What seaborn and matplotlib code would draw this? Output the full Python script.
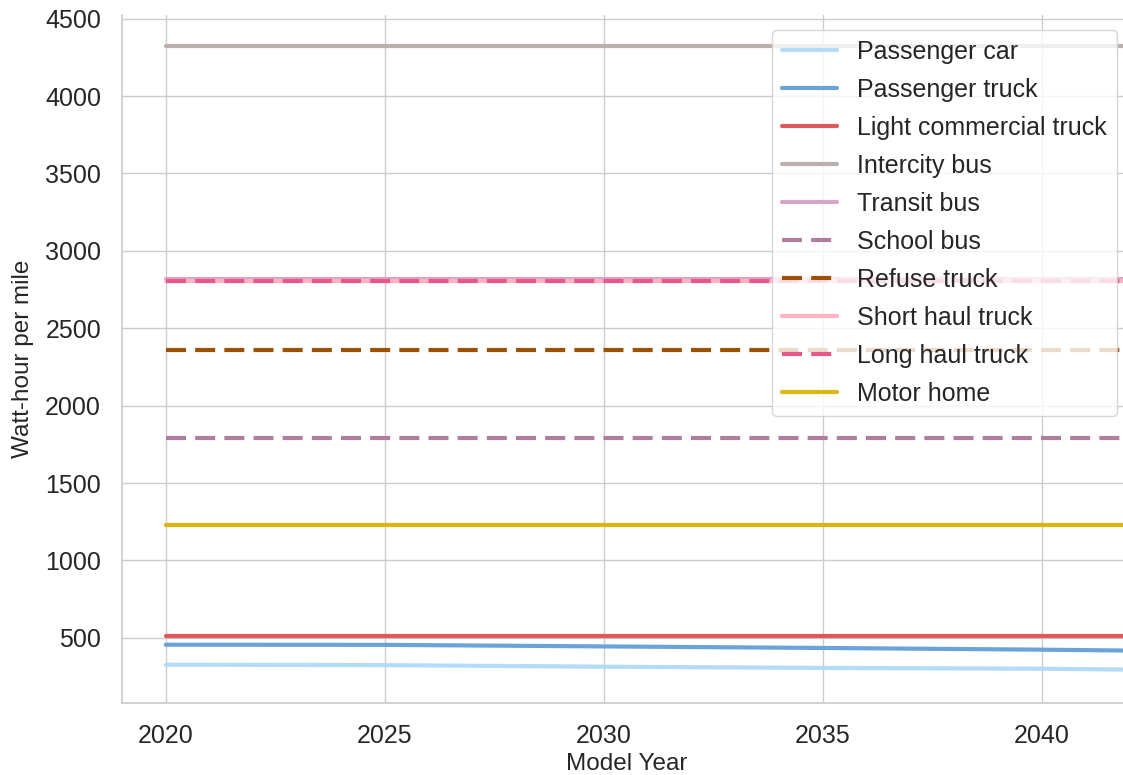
import numpy as np
import pandas as pd
import matplotlib
matplotlib.use("Agg")
import matplotlib.pyplot as plt
import seaborn as sns

# Energy intensity by vehicle class (Wh per mile)
years = [2020, 2025, 2030, 2035, 2040, 2042]
passenger_car = [327, 324, 314, 306, 301, 295]
passenger_truck = [456, 455, 445, 435, 424, 418]
light_commercial_truck = [514, 514, 514, 514, 514, 514]
intercity_bus = [4326, 4326, 4326, 4326, 4326, 4326]
transit_bus = [2815, 2815, 2815, 2815, 2815, 2815]
school_bus = [1793, 1793, 1793, 1793, 1793, 1793]
refuse_truck = [2362, 2362, 2362, 2362, 2362, 2362]
short_haul_truck = [2808, 2808, 2808, 2808, 2808, 2808]
long_haul_truck = [2808, 2808, 2808, 2808, 2808, 2808]
motor_home = [1231, 1231, 1231, 1231, 1231, 1231]

vehicle_names = ["Passenger car", "Passenger truck", "Light commercial truck",
                 "Intercity bus", "Transit bus", "School bus", "Refuse truck",
                 "Short haul truck", "Long haul truck", "Motor home"]
series = [passenger_car, passenger_truck, light_commercial_truck, intercity_bus,
          transit_bus, school_bus, refuse_truck, short_haul_truck,
          long_haul_truck, motor_home]

colors = {
    "Passenger car": "#b3dcf8",
    "Passenger truck": "#6aa3d9",
    "Light commercial truck": "#e0575b",
    "Intercity bus": "#bcb0ab",
    "Transit bus": "#d8a4cc",
    "School bus": "#b07c9f",
    "Refuse truck": "#9c5000",
    "Short haul truck": "#ffb3c1",
    "Long haul truck": "#e8578a",
    "Motor home": "#dab60e",
}
dash_pat = (4.8, 2.2)
dashes = {n: "" for n in vehicle_names}
for n in ["School bus", "Refuse truck", "Long haul truck"]:
    dashes[n] = dash_pat

df = pd.DataFrame({
    "Model Year": np.tile(years, len(vehicle_names)),
    "Watt-hour per mile": np.concatenate(series),
    "Vehicle": np.repeat(vehicle_names, len(years)),
})

sns.set_theme(style="whitegrid")
plt.rcParams["font.family"] = ["Liberation Sans", "DejaVu Sans"]

fig = plt.figure(figsize=(11.23, 7.75), dpi=100)
# axes run slightly past the right edge of the canvas
ax = fig.add_axes([0.1086, 0.093, 0.8994, 0.888])

sns.lineplot(data=df, x="Model Year", y="Watt-hour per mile", hue="Vehicle",
             style="Vehicle", hue_order=vehicle_names, style_order=vehicle_names,
             palette=colors, dashes=dashes, linewidth=3, ax=ax)

ax.set_xlim(2019.0, 2042.05)
ax.set_ylim(80, 4525)
ax.set_xticks([2020, 2025, 2030, 2035, 2040])
ax.set_yticks(range(500, 4501, 500))
ax.tick_params(labelsize=18, pad=9)
ax.set_xlabel("Model Year", fontsize=17.5, labelpad=4)
ax.set_ylabel("Watt-hour per mile", fontsize=17.5, labelpad=8)
sns.despine(ax=ax, top=True, right=True)

handles, labels = ax.get_legend_handles_labels()
leg = ax.legend(handles, labels, loc="upper right", fontsize=18,
                framealpha=0.8, handlelength=2.2, borderaxespad=0.6,
                labelspacing=0.56, handletextpad=0.8)
for h in leg.get_lines():
    h.set_linewidth(3)

fig.savefig("out.png", dpi=100)
